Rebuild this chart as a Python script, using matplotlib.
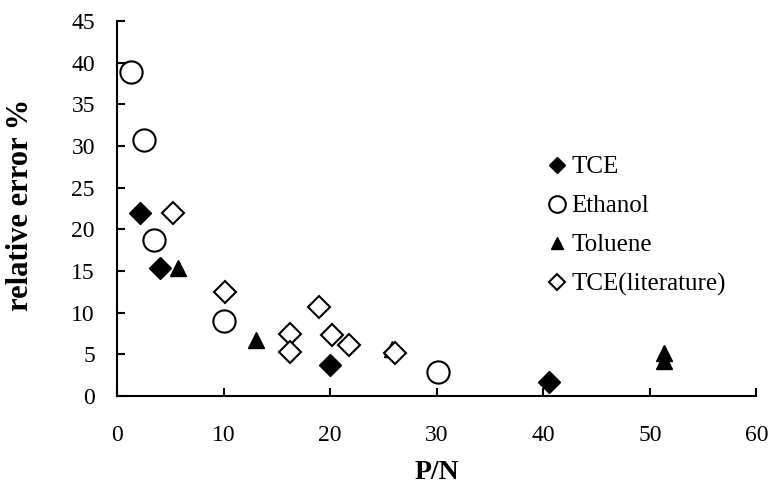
import matplotlib
matplotlib.use('Agg')
import matplotlib.pyplot as plt

plt.rcParams['font.family'] = ['Liberation Serif', 'DejaVu Serif']

# Data
tce_x = [2.1, 4.0, 20.0, 40.5]
tce_y = [22.0, 15.3, 3.7, 1.7]

ethanol_x = [1.3, 2.5, 3.5, 10.0, 30.1]
ethanol_y = [38.9, 30.7, 18.7, 9.0, 2.9]

toluene_x = [5.7, 13.0, 25.8, 51.3, 51.3]
toluene_y = [15.3, 6.7, 5.6, 5.1, 4.2]

lit_x = [5.2, 10.1, 16.2, 16.2, 18.9, 20.2, 21.8, 26.1]
lit_y = [22.0, 12.5, 7.4, 5.3, 10.7, 7.3, 6.1, 5.2]

x_ticks = [0, 10, 20, 30, 40, 50, 60]
y_ticks = [0, 5, 10, 15, 20, 25, 30, 35, 40, 45]

fig = plt.figure(figsize=(7.71, 4.87), dpi=100)
ax = fig.add_axes([0.152, 0.187, 0.829, 0.770])

ax.plot(tce_x, tce_y, 'D', color='black', markersize=11.5, label='TCE', zorder=4)
ax.plot(ethanol_x, ethanol_y, 'o', markerfacecolor='white', markeredgecolor='black',
        markeredgewidth=1.5, markersize=16, label='Ethanol', zorder=3)
ax.plot(toluene_x, toluene_y, '^', color='black', markersize=11, label='Toluene', zorder=2)
ax.plot(lit_x, lit_y, 'D', markerfacecolor='white', markeredgecolor='black',
        markeredgewidth=1.5, markersize=11, label='TCE(literature)', zorder=3)

ax.set_xlim(0, 60)
ax.set_ylim(0, 45)
ax.set_xticks(x_ticks)
ax.set_yticks(y_ticks)
ax.tick_params(direction='in', length=6, width=1.5, labelsize=17)
ax.tick_params(axis='x', pad=21)
ax.tick_params(axis='y', pad=16)
for side in ['top', 'right']:
    ax.spines[side].set_visible(False)
for side in ['left', 'bottom']:
    ax.spines[side].set_linewidth(1.5)

ax.set_xlabel('P/N', fontsize=20, fontweight='bold')
ax.set_ylabel('relative error %', fontsize=22, fontweight='bold')
ax.xaxis.set_label_coords(0.5, -0.172)
ax.yaxis.set_label_coords(-0.128, 0.51)

ax.legend(loc='upper left', bbox_to_anchor=(0.66, 0.667), frameon=False, fontsize=18,
          markerscale=0.75, handlelength=0.6, handletextpad=0.3, labelspacing=0.66,
          borderaxespad=0)

fig.savefig('out.png', dpi=100)
